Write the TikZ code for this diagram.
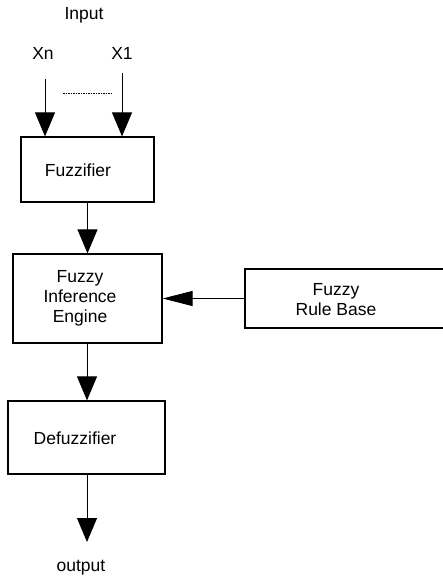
\documentclass[tikz,border=0pt]{standalone}
\usepackage{fontspec}
\setmainfont{Liberation Sans}
\usetikzlibrary{arrows.meta}
\begin{document}
\begin{tikzpicture}[x=1pt,y=-1pt,
  every node/.style={font=\fontsize{17.5}{20}\selectfont, inner sep=0pt},
  blk/.style={draw, line width=1.2pt, rectangle, minimum width=#1},
  txt/.style={align=center},
  arr/.style={line width=1pt, -{Triangle[width=20pt,length=24pt]}},
  sidearr/.style={line width=1pt, -{Triangle[width=15pt,length=30pt]}},
  dots/.style={line width=0.7pt, dash pattern=on 1.5pt off 1pt}
]
\useasboundingbox (0,0) rectangle (442,578);

% text labels
\node[txt] (input) at (84,15) {Input};
\node[txt] (xn) at (43,53) {Xn};
\node[txt] (x1) at (122,53) {X1};

% blocks
\node[blk=133pt, minimum height=65pt] (fz) at (87.5,169.5) {};
\node[txt] (fzt) at (78,170) {Fuzzifier};

\node[blk=149pt, minimum height=89pt] (fie) at (87.5,298.5) {};
\node[txt] (fiet) at (80,298) {Fuzzy\\Inference\\Engine};

\node[blk=205pt, minimum height=59pt] (frb) at (347.5,298.5) {};
\node[txt] (frbt) at (336,300) {Fuzzy\\Rule Base};

\node[blk=157pt, minimum height=73pt] (dfz) at (86.5,437.5) {};
\node[txt] (dfzt) at (75,438) {Defuzzifier};

\node[txt] (output) at (81,568) {output};

% free ends
\coordinate (xns) at (45,79);
\coordinate (x1s) at (122,73);
\coordinate (dl) at (63,93);
\coordinate (dr) at (113,93);
\coordinate (outtip) at (87,542);

% connectors
\draw[arr] (xns) -- (xns |- fz.north);
\draw[arr] (x1s) -- (x1s |- fz.north);
\draw[dots] (dl) -- (dr);
\draw[arr] (fz.south) -- (fie.north);
\draw[sidearr] (frb.west) -- (fie.east);
\draw[arr] (fie.south -| outtip) -- (dfz.north -| outtip);
\draw[arr] (dfz.south -| outtip) -- (outtip);
\end{tikzpicture}
\end{document}
